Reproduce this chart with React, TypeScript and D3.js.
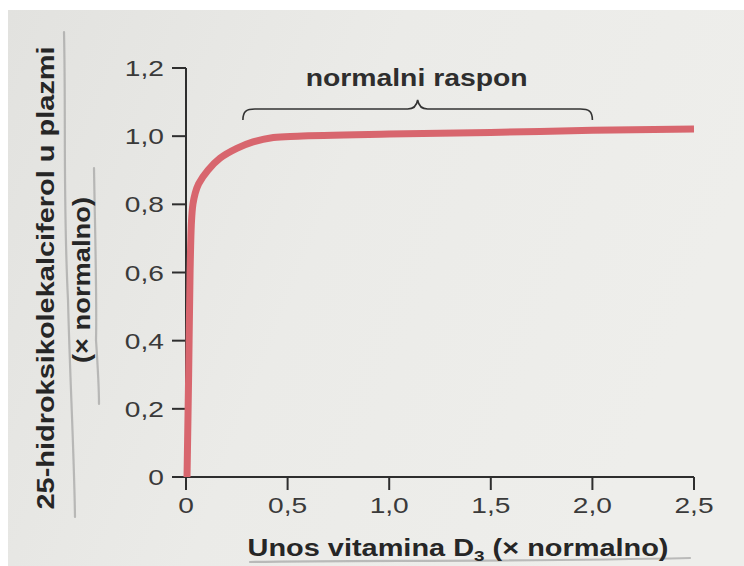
import React from "react";
import * as d3 from "d3";

const intakeX = [0.005, 0.013, 0.02, 0.027, 0.034, 0.045, 0.062, 0.108, 0.167, 0.25, 0.33, 0.43, 0.55, 1.0, 1.5, 2.0, 2.5];
const levelY = [0, 0.3, 0.6, 0.75, 0.8, 0.832, 0.86, 0.9, 0.935, 0.964, 0.983, 0.996, 1.0, 1.006, 1.011, 1.017, 1.021];
const xTicks = [0, 0.5, 1.0, 1.5, 2.0, 2.5];
const xTickLabels = ["0", "0,5", "1,0", "1,5", "2,0", "2,5"];
const yTicks = [0, 0.2, 0.4, 0.6, 0.8, 1.0, 1.2];
const yTickLabels = ["0", "0,2", "0,4", "0,6", "0,8", "1,0", "1,2"];
const normalRange = [0.28, 2.0];
const rangeLabel = "normalni raspon";
const yTitle1 = "25-hidroksikolekalciferol u plazmi";
const yTitle2 = "(× normalno)";

const W = 744;
const H = 566;
const FONT = "'Liberation Sans', Arial, Helvetica, sans-serif";
const INK = "#2e2e2e";

export default function App() {
  const x = d3.scaleLinear().domain([0, 2.5]).range([186, 694]);
  const y = d3.scaleLinear().domain([0, 1.2]).range([477, 68]);

  const pts: [number, number][] = intakeX.map((v, i) => [v, levelY[i]]);
  const line = d3
    .line<[number, number]>()
    .x((d) => x(d[0]))
    .y((d) => y(d[1]))
    .curve(d3.curveCatmullRom.alpha(0.5));

  const bx0 = x(normalRange[0]);
  const bx1 = x(normalRange[1]);
  const bm = (bx0 + bx1) / 2;
  const by = 109;
  const brace = `M${bx0},${by + 11} C${bx0},${by + 2} ${bx0 + 4},${by} ${bx0 + 12},${by} L${bm - 10},${by} C${bm - 4},${by} ${bm - 1},${by - 3} ${bm},${by - 9} C${bm + 1},${by - 3} ${bm + 4},${by} ${bm + 10},${by} L${bx1 - 12},${by} C${bx1 - 4},${by} ${bx1},${by + 2} ${bx1},${by + 11}`;

  const sx = 1.28;

  return (
    <svg
      width={W}
      height={H}
      style={{ position: "absolute", left: 0, top: 0, display: "block" }}
    >
      <defs>
        <linearGradient id="paper" x1="0" y1="0" x2="1" y2="0.3">
          <stop offset="0" stopColor="#e2e2df" />
          <stop offset="0.5" stopColor="#ebebe8" />
          <stop offset="1" stopColor="#eeeeeb" />
        </linearGradient>
      </defs>
      <rect x={0} y={0} width={W} height={H} fill="#ffffff" />
      <rect x={8} y={10} width={W - 8} height={H - 10} fill="url(#paper)" />

      {/* pencil marks */}
      <g fill="none" stroke="#8f8f8f" strokeWidth={2.2} strokeOpacity={0.55} strokeLinecap="round">
        <path d="M64,32 C66,120 63,200 68,300 C70,380 74,450 75,517" />
        <path d="M94,168 C95,230 97,300 96,340 C98,370 99,390 99,404" />
        <path d="M250,562 C350,560 500,562 690,558" />
      </g>

      {/* axes */}
      <g stroke={INK} strokeWidth={2} fill="none">
        <line x1={x(0)} y1={y(0)} x2={x(0)} y2={y(1.2)} />
        <line x1={x(0)} y1={y(0)} x2={x(2.5)} y2={y(0)} />
        {yTicks.map((t) => (
          <line key={"yt" + t} x1={x(0) - 14} x2={x(0)} y1={y(t)} y2={y(t)} />
        ))}
        {xTicks.map((t) => (
          <line key={"xt" + t} x1={x(t)} x2={x(t)} y1={y(0)} y2={y(0) + 13} />
        ))}
      </g>

      {/* tick labels */}
      <g fontFamily={FONT} fontSize={22} fill="#3a3a3a">
        {yTicks.map((t, i) => (
          <text
            key={"yl" + t}
            textAnchor="end"
            transform={`translate(${x(0) - 22},${y(t) + 8}) scale(${sx},1)`}
          >
            {yTickLabels[i]}
          </text>
        ))}
        {xTicks.map((t, i) => (
          <text
            key={"xl" + t}
            textAnchor="middle"
            transform={`translate(${x(t)},${y(0) + 36}) scale(${sx},1)`}
          >
            {xTickLabels[i]}
          </text>
        ))}
      </g>

      {/* curve */}
      <path
        d={line(pts) || ""}
        fill="none"
        stroke="#d8666e"
        strokeWidth={7}
        strokeLinecap="butt"
        strokeLinejoin="round"
      />

      {/* brace + label */}
      <path d={brace} fill="none" stroke="#333" strokeWidth={1.6} />
      <text
        x={bm - 1}
        y={86}
        textAnchor="middle"
        fontFamily={FONT}
        fontSize={23}
        fontWeight="bold"
        fill="#2e2e2e"
        textLength={222}
        lengthAdjust="spacingAndGlyphs"
      >
        {rangeLabel}
      </text>

      {/* x title */}
      <text
        x={458}
        y={556}
        textAnchor="middle"
        fontFamily={FONT}
        fontSize={23}
        fontWeight="bold"
        fill="#262626"
        textLength={421}
        lengthAdjust="spacingAndGlyphs"
      >
        Unos vitamina  D<tspan fontSize={15} dy={5}>3</tspan>
        <tspan dy={-5}> (× normalno)</tspan>
      </text>

      {/* y titles */}
      <text
        transform={`translate(54,278) rotate(-90)`}
        textAnchor="middle"
        fontFamily={FONT}
        fontSize={23}
        fontWeight="bold"
        fill="#262626"
        textLength={463}
        lengthAdjust="spacingAndGlyphs"
      >
        {yTitle1}
      </text>
      <text
        transform={`translate(90,280) rotate(-90)`}
        textAnchor="middle"
        fontFamily={FONT}
        fontSize={23}
        fontWeight="bold"
        fill="#262626"
        textLength={166}
        lengthAdjust="spacingAndGlyphs"
      >
        {yTitle2}
      </text>
    </svg>
  );
}
